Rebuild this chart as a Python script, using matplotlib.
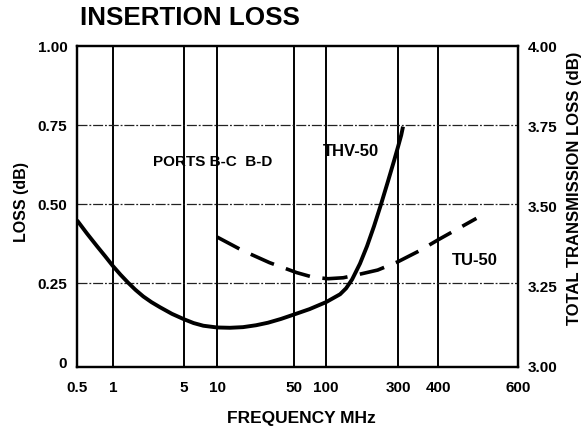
import numpy as np
import matplotlib
matplotlib.use("Agg")
import matplotlib.pyplot as plt

plt.rcParams['font.family'] = ['Liberation Sans', 'DejaVu Sans']
plt.rcParams['font.weight'] = 'bold'

# ---- data ----
x_ticks = [0.5, 1, 5, 10, 50, 100, 300, 400, 600]
x_tick_labels = ["0.5", "1", "5", "10", "50", "100", "300", "400", "600"]
left_ticks = [0, 0.25, 0.50, 0.75, 1.00]
left_tick_labels = ["0", "0.25", "0.50", "0.75", "1.00"]
right_ticks = [3.00, 3.25, 3.50, 3.75, 4.00]
right_tick_labels = ["3.00", "3.25", "3.50", "3.75", "4.00"]

thv_freq = [0.5, 0.606, 0.735, 0.857, 1, 1.185, 1.415, 1.665, 1.988, 2.393, 2.902, 3.81, 5,
            6.11, 7.5, 10, 13.1, 17.2, 22.6, 29.0, 38.1, 50, 70, 100, 124, 136, 149, 168,
            187, 208, 231, 257, 282, 300, 307, 311]
thv_loss = [0.449, 0.407, 0.367, 0.336, 0.304, 0.277, 0.251, 0.229, 0.208, 0.190, 0.174,
            0.153, 0.136, 0.124, 0.1155, 0.110, 0.109, 0.111, 0.117, 0.125, 0.137, 0.151,
            0.168, 0.190, 0.215, 0.234, 0.262, 0.312, 0.367, 0.430, 0.498, 0.571, 0.636,
            0.681, 0.718, 0.745]

tu_freq = [10, 17, 30, 53, 75, 103, 130, 160, 220, 300, 350, 400, 486]
tu_loss = [3.405, 3.363, 3.325, 3.294, 3.28, 3.275, 3.278, 3.287, 3.302, 3.328, 3.362, 3.396, 3.463]

# ---- hand-drawn frequency scale: piecewise in log space ----
tick_pos = np.array([0.0, 0.0816, 0.2426, 0.3175, 0.4921, 0.5646, 0.7279, 0.8186, 1.0])
tick_log = np.log10(np.array(x_ticks, dtype=float))

def fwd(x):
    x = np.asarray(x, dtype=float)
    lx = np.log10(np.clip(x, 1e-3, None))
    p = np.interp(lx, tick_log, tick_pos)
    p = np.where(lx < tick_log[0], tick_pos[0] + (lx - tick_log[0]) * 0.27, p)
    p = np.where(lx > tick_log[-1], tick_pos[-1] + (lx - tick_log[-1]) * 1.0, p)
    return p

def inv(p):
    p = np.asarray(p, dtype=float)
    lx = np.interp(p, tick_pos, tick_log)
    lx = np.where(p < tick_pos[0], tick_log[0] + (p - tick_pos[0]) / 0.27, lx)
    lx = np.where(p > tick_pos[-1], tick_log[-1] + (p - tick_pos[-1]) / 1.0, lx)
    return 10 ** lx

fig = plt.figure(figsize=(5.85, 4.32), dpi=100)
ax = fig.add_axes([77/585, 1 - 367/432, (518 - 77)/585, (367 - 46)/432])
ax.set_xscale('function', functions=(fwd, inv))
ax.set_xlim(x_ticks[0], x_ticks[-1])
ax.set_ylim(-0.015, 1.0)

# grid
for xv in x_ticks[1:-1]:
    ax.axvline(xv, color='black', lw=1.4, zorder=1)
for yv in left_ticks[1:-1]:
    ax.axhline(yv, color='#222222', lw=0.9, ls=(0, (8, 1.5, 1.5, 1.5)), zorder=1)

ax.plot(thv_freq, thv_loss, color='black', lw=2.8, solid_capstyle='butt',
        solid_joinstyle='round', zorder=3)

ax2 = ax.twinx()
ax2.set_ylim(3.0, 4.0)
ax2.plot(tu_freq, tu_loss, color='black', lw=2.6, ls=(0, (7, 3.5)), zorder=3)

ax.set_xticks(x_ticks)
ax.set_xticklabels(x_tick_labels)
ax.xaxis.set_minor_locator(matplotlib.ticker.NullLocator())
ax.set_yticks(left_ticks)
ax.set_yticklabels(left_tick_labels)
ax2.set_yticks(right_ticks)
ax2.set_yticklabels(right_tick_labels)

for a in (ax, ax2):
    a.tick_params(length=0, labelsize=11)
    for s in a.spines.values():
        s.set_linewidth(1.6)
ax.tick_params(axis='x', pad=10)
ax.tick_params(axis='y', pad=7)
ax2.tick_params(axis='y', pad=7)

fig.text(301/585, 1 - 418/432, "FREQUENCY MHz", ha='center', va='center',
         fontsize=12.5, fontweight='bold')
fig.text(22/585, 1 - 202/432, "LOSS (dB)", rotation=90, ha='center', va='center',
         fontsize=11.5, fontweight='bold')
fig.text(574/585, 1 - 188/432, "TOTAL TRANSMISSION LOSS (dB)", rotation=90, ha='center',
         va='center', fontsize=12, fontweight='bold')
fig.text(80/585, 1 - 18/432, "INSERTION LOSS", ha='left', va='center',
         fontsize=18.7, fontweight='bold')

ax.text(0.172, 0.640, "PORTS B-C  B-D", transform=ax.transAxes, ha='left', va='center',
        fontsize=11, fontweight='bold')
ax.text(0.558, 0.671, "THV-50", transform=ax.transAxes, ha='left', va='center',
        fontsize=12, fontweight='bold')
ax.text(0.850, 0.333, "TU-50", transform=ax.transAxes, ha='left', va='center',
        fontsize=12, fontweight='bold')

fig.savefig("out.png", dpi=100)
